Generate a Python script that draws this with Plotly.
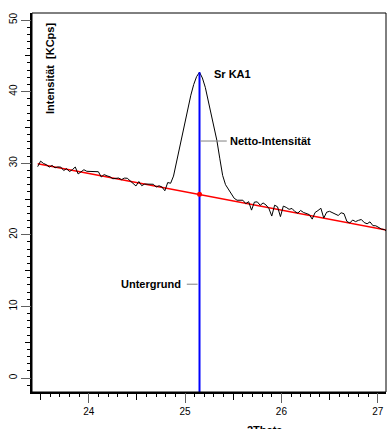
import plotly.graph_objects as go

# ---- data ----
two_theta_start = 23.47
two_theta_step = 0.03
intensity = [
    29.52, 30.29, 29.97, 29.79, 29.46, 29.69, 29.36, 29.48, 29.46, 28.98,
    29.25, 28.83, 29.10, 29.47, 28.50, 28.77, 29.09, 28.87, 28.84, 28.81,
    28.79, 28.81, 28.08, 28.41, 28.23, 28.11, 27.83, 27.90, 27.93, 27.70,
    27.92, 27.90, 27.52, 27.19, 26.82, 27.44, 26.86, 27.09, 27.11, 27.08,
    27.06, 26.68, 26.85, 26.68, 26.15, 27.30, 27.20, 28.20, 30.10, 31.90,
    34.10, 36.20, 37.80, 39.50, 41.00, 42.10, 42.70, 41.90, 40.60, 38.70,
    36.80, 35.10, 33.20, 30.70, 28.30, 27.00, 26.30, 25.70, 25.10, 24.83,
    24.86, 24.83, 24.35, 24.63, 23.45, 24.57, 24.60, 24.12, 24.45, 24.17,
    23.69, 22.62, 24.14, 23.91, 22.54, 24.01, 23.83, 23.56, 23.68, 23.25,
    23.03, 23.40, 23.12, 23.00, 22.82, 22.19, 23.12, 23.39, 23.71, 22.34,
    23.16, 23.28, 23.11, 22.88, 22.70, 23.08, 22.95, 21.87, 21.65, 22.07,
    21.84, 22.02, 22.14, 21.71, 21.54, 21.81, 21.28, 21.26, 20.98, 20.80,
    20.73, 20.35,
]
two_theta = [round(two_theta_start + two_theta_step * i, 4) for i in range(len(intensity))]

background_x = [23.47, 27.11]
background_y = [29.92, 20.62]

peak_pos = 25.15
peak_top = 42.70
peak_background = 25.65

x_range = [23.411, 27.086]
y_range = [-1.955, 50.98]

netto_leader_x = [25.16, 25.433]
netto_leader_y = [33.1, 33.1]
unter_leader_x = [25.018, 25.13]
unter_leader_y = [13.1, 13.1]

FONT = "Arial, Liberation Sans, sans-serif"

fig = go.Figure()

fig.add_trace(go.Scatter(x=background_x, y=background_y, mode="lines",
                         line=dict(color="#FF0000", width=1.5),
                         hoverinfo="skip", showlegend=False))
fig.add_trace(go.Scatter(x=two_theta, y=intensity, mode="lines",
                         line=dict(color="#000000", width=1),
                         hoverinfo="skip", showlegend=False))
fig.add_trace(go.Scatter(x=[peak_pos, peak_pos], y=[y_range[0] - 5, peak_top], mode="lines",
                         line=dict(color="#0000FF", width=2),
                         hoverinfo="skip", showlegend=False))
fig.add_trace(go.Scatter(x=[peak_pos], y=[peak_background], mode="markers",
                         marker=dict(color="#FF0000", size=5),
                         hoverinfo="skip", showlegend=False))
fig.add_trace(go.Scatter(x=netto_leader_x, y=netto_leader_y, mode="lines",
                         line=dict(color="#808080", width=1),
                         hoverinfo="skip", showlegend=False))
fig.add_trace(go.Scatter(x=unter_leader_x, y=unter_leader_y, mode="lines",
                         line=dict(color="#808080", width=1),
                         hoverinfo="skip", showlegend=False))
fig.add_trace(go.Scatter(x=[peak_pos], y=[peak_top], mode="lines",
                         xaxis="x2", yaxis="y2", line=dict(width=0),
                         hoverinfo="skip", showlegend=False))

fig.update_layout(
    width=387, height=429,
    margin=dict(l=32, r=1, t=13, b=37, autoexpand=False),
    paper_bgcolor="white", plot_bgcolor="white",
    font=dict(family=FONT, size=10, color="black"),
    xaxis=dict(range=x_range, showgrid=False, zeroline=False, automargin=False,
               showline=True, linewidth=2, linecolor="black",
               ticks="outside", tick0=0, dtick=0.5, ticklen=6, tickwidth=1,
               tickcolor="black", showticklabels=False,
               minor=dict(ticks="outside", dtick=0.1, tick0=0, ticklen=3,
                          tickwidth=1, tickcolor="black", showgrid=False)),
    xaxis2=dict(range=x_range, overlaying="x", side="bottom", anchor="y",
                showgrid=False, zeroline=False, showline=False, automargin=False,
                ticks="outside", tick0=0, dtick=1, ticklen=10, tickwidth=1,
                tickcolor="#606060", showticklabels=True,
                tickfont=dict(family=FONT, size=10, color="black")),
    yaxis=dict(range=y_range, showgrid=False, zeroline=False, automargin=False,
               showline=True, linewidth=2, linecolor="black",
               ticks="outside", tick0=0, dtick=5, ticklen=5, tickwidth=1,
               tickcolor="black", showticklabels=False,
               minor=dict(ticks="outside", dtick=1, tick0=0, ticklen=3,
                          tickwidth=1, tickcolor="black", showgrid=False)),
    yaxis2=dict(range=y_range, overlaying="y", side="left", anchor="x",
                showgrid=False, zeroline=False, showline=False, automargin=False,
                ticks="outside", tick0=0, dtick=10, ticklen=10, tickwidth=1,
                tickcolor="#606060", showticklabels=True, tickangle=-90,
                tickfont=dict(family=FONT, size=10, color="black")),
    shapes=[dict(type="rect", xref="paper", yref="paper", x0=0, x1=1, y0=0, y1=1,
                 line=dict(color="black", width=1), layer="above")],
    annotations=[
        dict(text="<b>Sr KA1</b>", x=25.28, y=42.46, xref="x", yref="y",
             xanchor="left", yanchor="middle", showarrow=False,
             font=dict(family=FONT, size=11, color="black")),
        dict(text="<b>Netto-Intensität</b>", x=25.445, y=33.1, xref="x", yref="y",
             xanchor="left", yanchor="middle", showarrow=False,
             font=dict(family=FONT, size=11, color="black")),
        dict(text="<b>Untergrund</b>", x=24.98, y=13.1, xref="x", yref="y",
             xanchor="right", yanchor="middle", showarrow=False,
             font=dict(family=FONT, size=11, color="black")),
        dict(text="<b>Intensität  [KCps]</b>", x=0.0508, y=0.855, xref="paper", yref="paper",
             xanchor="center", yanchor="middle", textangle=-90, showarrow=False,
             font=dict(family=FONT, size=11, color="black")),
        dict(text="<b>2Theta</b>", x=0.658, y=-0.079, xref="paper", yref="paper",
             xanchor="center", yanchor="top", showarrow=False,
             font=dict(family=FONT, size=11, color="black")),
    ],
)

fig.write_html("out.html", config={"displayModeBar": False},
               post_script="document.body.style.margin='0';document.body.style.padding='0';")
